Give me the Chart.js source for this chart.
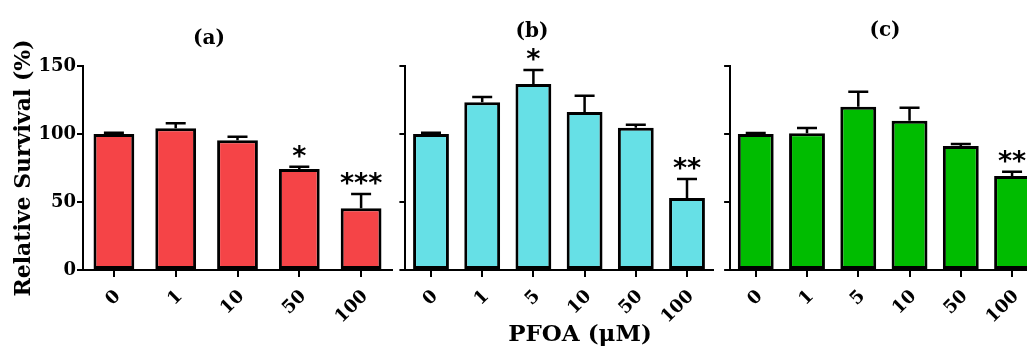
<!DOCTYPE html>
<html><head><meta charset="utf-8">
<script src="https://cdn.jsdelivr.net/npm/chart.js@4.4.1/dist/chart.umd.min.js"></script>
<style>
html,body{margin:0;padding:0;background:#fff;width:1027px;height:349px;overflow:hidden;position:relative;}
canvas{position:absolute;top:0;}
.lbl{position:absolute;font-family:'DejaVu Serif',serif;font-weight:bold;color:#000;text-align:center;white-space:nowrap;}
</style></head><body>
<canvas id="ca" width="400" height="349" style="left:0px"></canvas>
<canvas id="cb" width="340" height="349" style="left:380px"></canvas>
<canvas id="cc" width="340" height="349" style="left:700px"></canvas>
<div class="lbl" style="left:159px;top:27px;width:100px;font-size:20px;line-height:20px">(a)</div>
<div class="lbl" style="left:482px;top:20px;width:100px;font-size:20px;line-height:20px">(b)</div>
<div class="lbl" style="left:835px;top:19px;width:100px;font-size:20px;line-height:20px">(c)</div>
<div class="lbl" style="left:480px;top:320px;width:200px;font-size:23px;line-height:26px">PFOA (μM)</div>
<script>
// ---- data ----
const catsA = ['0', '1', '10', '50', '100'];
const valsA = [100, 104.2, 95.4, 74.3, 45.4];
const errA  = [1, 3.7, 2.6, 1.7, 10.5];
const starsA = ['', '', '', '*', '***'];

const catsB = ['0', '1', '5', '10', '50', '100'];
const valsB = [100, 123.3, 136.8, 116.2, 104.6, 52.9];
const errB  = [1, 3.9, 10.2, 12, 2.2, 14];
const starsB = ['', '', '*', '', '', '**'];

const catsC = ['0', '1', '5', '10', '50', '100'];
const valsC = [100, 100.5, 120.1, 109.8, 91.2, 69.1];
const errC  = [0.8, 3.9, 11, 9.5, 1.4, 3.2];
const starsC = ['', '', '', '', '', '**'];

const yTicks = [0, 50, 100, 150];
const yTitle = 'Relative Survival (%)';

const SERIF = "'DejaVu Serif', serif";

const errPlugin = {
  id: 'errbars',
  afterDatasetsDraw(chart, args, opts) {
    const ctx = chart.ctx;
    const y = chart.scales.y;
    const meta = chart.getDatasetMeta(0);
    const ds = chart.data.datasets[0];
    ctx.save();
    ctx.strokeStyle = '#000';
    ctx.lineWidth = 2.5;
    ds.data.forEach((v, i) => {
      const e = opts.errors[i];
      const px = meta.data[i].x;
      const y0 = y.getPixelForValue(v);
      const y1 = y.getPixelForValue(v + e);
      ctx.beginPath();
      ctx.moveTo(px, y0);
      ctx.lineTo(px, y1);
      ctx.moveTo(px - 10, y1);
      ctx.lineTo(px + 10, y1);
      ctx.stroke();
      const s = opts.stars[i];
      if (s) {
        ctx.fillStyle = '#000';
        ctx.font = "bold 27px 'DejaVu Sans', sans-serif";
        ctx.textAlign = 'center';
        ctx.textBaseline = 'alphabetic';
        ctx.fillText(s, px, y1 - 2);
      }
    });
    ctx.restore();
  }
};

function makeChart(id, cats, vals, errs, stars, color, yWidth, padRight, showY, barPct) {
  return new Chart(document.getElementById(id), {
    type: 'bar',
    data: {
      labels: cats,
      datasets: [{
        data: vals,
        backgroundColor: color,
        borderColor: '#000',
        borderWidth: 3,
        borderSkipped: false,
        categoryPercentage: 1,
        barPercentage: barPct
      }]
    },
    options: {
      responsive: false,
      animation: false,
      devicePixelRatio: 1,
      layout: { padding: { top: 66, right: padRight, left: 0, bottom: 0 } },
      plugins: {
        legend: { display: false },
        tooltip: { enabled: false },
        errbars: { errors: errs, stars: stars }
      },
      scales: {
        x: {
          offset: true,
          grid: { offset: false, drawOnChartArea: false, drawTicks: true, tickLength: 7, color: '#000', lineWidth: 2 },
          border: { display: true, color: '#000', width: 2 },
          ticks: {
            minRotation: 45, maxRotation: 45, padding: 9, labelOffset: 4, color: '#000',
            font: { family: SERIF, size: 18, weight: 'bold' }
          },
          afterFit(s) { s.height = 79; }
        },
        y: {
          min: 0, max: 150,
          afterBuildTicks(s) { s.ticks = yTicks.map(v => ({ value: v })); },
          grid: { drawOnChartArea: false, drawTicks: true, tickLength: 6, color: '#000', lineWidth: 2 },
          border: { display: true, color: '#000', width: 2 },
          ticks: {
            display: showY, padding: 1, color: '#000',
            font: { family: SERIF, size: 18, weight: 'bold' }
          },
          title: {
            display: showY, text: yTitle, color: '#000',
            font: { family: SERIF, size: 22, weight: 'bold' },
            padding: { top: 11, bottom: 0 }
          },
          afterFit(s) { s.width = yWidth; }
        }
      }
    },
    plugins: [errPlugin]
  });
}

makeChart('ca', catsA, valsA, errA, starsA, '#F54447', 83, 8, true, 0.66);
makeChart('cb', catsB, valsB, errB, starsB, '#66E0E6', 25.4, 7.4, false, 0.70);
makeChart('cc', catsC, valsC, errC, starsC, '#00BC00', 30.1, 2.3, false, 0.70);
</script>
</body></html>
